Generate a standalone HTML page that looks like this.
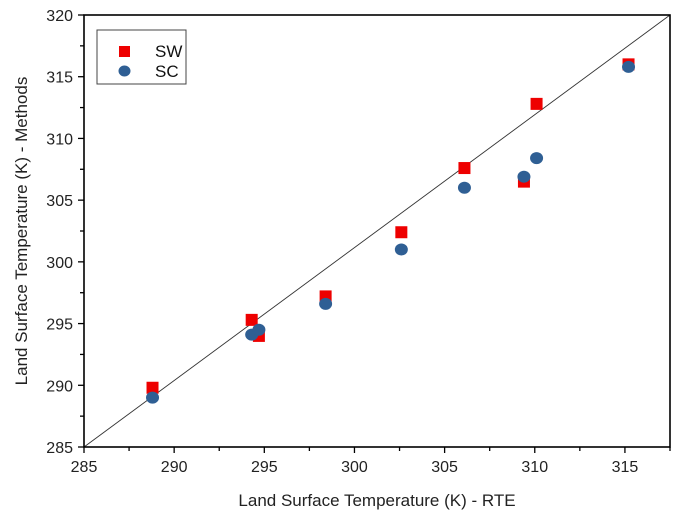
<!DOCTYPE html>
<html><head><meta charset="utf-8"><style>
body{margin:0;background:#fff;font-family:"Liberation Sans",sans-serif}
</style></head><body>
<svg width="697" height="524" xmlns="http://www.w3.org/2000/svg" id="c" font-family="Liberation Sans, sans-serif">
<rect width="697" height="524" fill="#fff"/>
</svg>
<script>
const xVals=[288.8,294.3,294.7,298.4,302.6,306.1,309.4,310.1,315.2];
const swVals=[289.8,295.3,294.0,297.2,302.4,307.6,306.5,312.8,316.0];
const scVals=[289.0,294.1,294.5,296.6,301.0,306.0,306.9,308.4,315.8];
const xTicks=[285,290,295,300,305,310,315];
const yTicks=[285,290,295,300,305,310,315,320];
const X0=84,X1=670,Y0=447,Y1=15,xmin=285,xmax=317.5,ymin=285,ymax=320;
const sx=v=>X0+(v-xmin)/(xmax-xmin)*(X1-X0);
const sy=v=>Y0-(v-ymin)/(ymax-ymin)*(Y0-Y1);
const svg=document.getElementById('c');const NS='http://www.w3.org/2000/svg';
function mk(t,a,p){const e=document.createElementNS(NS,t);for(const k in a)e.setAttribute(k,a[k]);(p||svg).appendChild(e);return e;}
let ln=mk('line',{x1:sx(285),y1:sy(285),x2:sx(317.5),y2:sy(320),stroke:'#333','stroke-width':0.9});


xTicks.forEach(v=>{
 let t=mk('line',{x1:sx(v),x2:sx(v),y1:Y0,y2:Y0+6,stroke:'#000','stroke-width':1.3});
 
 
 let m=mk('line',{x1:sx(v+2.5),x2:sx(v+2.5),y1:Y0,y2:Y0+4,stroke:'#000','stroke-width':1.3});
 
 
 let l=mk('text',{x:sx(v),y:Y0+25,'text-anchor':'middle','font-size':16,fill:'#222'});l.textContent=v;
 
 
});
yTicks.forEach(v=>{
 let t=mk('line',{x1:X0-6,x2:X0,y1:sy(v),y2:sy(v),stroke:'#000','stroke-width':1.3});
 
 
 if(v<320){let m=mk('line',{x1:X0-4,x2:X0,y1:sy(v+2.5),y2:sy(v+2.5),stroke:'#000','stroke-width':1.3});
 
 }
 let l=mk('text',{x:X0-11,y:sy(v)+6,'text-anchor':'end','font-size':16,fill:'#222'});l.textContent=v;
 
 
});
xVals.forEach((x,i)=>{
 let r=mk('rect',{x:sx(x)-6,y:sy(swVals[i])-6,width:12,height:12,fill:'#ee0000'});
 
 
});
xVals.forEach((x,i)=>{
 let c=mk('ellipse',{cx:sx(x),cy:sy(scVals[i]),rx:6.5,ry:6,fill:'#2f5f94'});
 
 
});
let fr=mk('rect',{x:X0,y:Y1,width:X1-X0,height:Y0-Y1,fill:'none',stroke:'#000','stroke-width':1.6});


let lg=mk('g',{});


mk('rect',{x:97,y:30,width:89,height:54,fill:'#fff',stroke:'#444','stroke-width':1},lg);
mk('rect',{x:119,y:46,width:11,height:11,fill:'#ee0000'},lg);
let t1=mk('text',{x:155,y:57,'font-size':17,fill:'#111'},lg);t1.textContent='SW';
mk('ellipse',{cx:124.5,cy:71,rx:6,ry:5.5,fill:'#2f5f94'},lg);
let t2=mk('text',{x:155,y:77,'font-size':17,fill:'#111'},lg);t2.textContent='SC';
let xt=mk('text',{x:377,y:506,'text-anchor':'middle','font-size':17,fill:'#222'});xt.textContent='Land Surface Temperature (K) - RTE';


let yt=mk('text',{x:0,y:0,'text-anchor':'middle','font-size':17,fill:'#222',transform:'translate(27,231) rotate(-90)'});yt.textContent='Land Surface Temperature (K) - Methods';


</script>
</body></html>
